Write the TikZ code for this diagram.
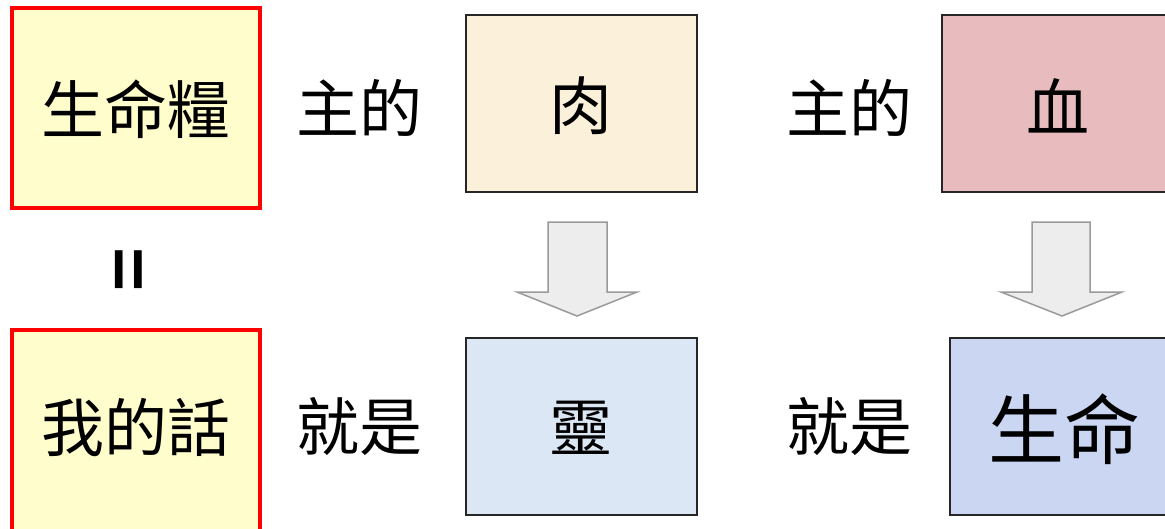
\documentclass[tikz,border=0pt]{standalone}
\usepackage{fontspec}
\newfontfamily\cjk{Noto Sans CJK TC}
\newfontfamily\cjkb{Noto Sans CJK TC Bold}
\definecolor{ybox}{HTML}{FFFDCC}
\definecolor{rouge}{HTML}{FF0000}
\definecolor{flesh}{HTML}{FBF0DA}
\definecolor{blood}{HTML}{E8BCBE}
\definecolor{spirit}{HTML}{DCE7F5}
\definecolor{life}{HTML}{CAD6F2}
\definecolor{arrfill}{HTML}{EDEDED}
\definecolor{arrline}{HTML}{9A9A9A}
\tikzset{
  redbox/.style={draw=rouge, line width=3.5pt, fill=ybox},
  pic box/.style={draw=black!85, line width=1.5pt},
  bigtxt/.style={font=\cjk\fontsize{63}{70}\selectfont, inner sep=0pt},
  downarrow/.style={draw=arrline, line width=1.5pt, fill=arrfill, line join=miter},
}
\begin{document}
\begin{tikzpicture}[x=1pt,y=-1pt]
\useasboundingbox (0,0) rectangle (1165,528);
\clip (0,0) rectangle (1165,528);
\fill[white] (0,0) rectangle (1165,528);
% left boxes
\draw[redbox] (12,8) rectangle (260,208);
\node[bigtxt] (food) at (136,109) {生命糧};
\draw[redbox] (12,330) rectangle (260,560);
\node[bigtxt] (word) at (136,428) {我的話};
\node[font=\cjkb\fontsize{74}{74}\selectfont, rotate=90, inner sep=0pt] (eq) at (136,270) {=};
% middle labels
\node[bigtxt] (zhu1) at (359,108) {主的};
\node[bigtxt] (jiu1) at (359,427) {就是};
\node[bigtxt] (zhu2) at (849,108) {主的};
\node[bigtxt] (jiu2) at (849,427) {就是};
% picture boxes
\draw[pic box, fill=flesh] (466,15) rectangle (697,192);
\node[bigtxt] (rou) at (581,106) {肉};
\draw[pic box, fill=spirit] (466,338) rectangle (697,515);
\node[bigtxt] (ling) at (581,428) {靈};
\draw[pic box, fill=blood] (942,15) rectangle (1180,192);
\node[bigtxt] (xue) at (1058,106) {血};
\draw[pic box, fill=life] (950,338) rectangle (1180,515);
\node[font=\cjk\fontsize{76}{80}\selectfont, inner sep=0pt] (life) at (1064,429) {生命};
% arrows
\draw[downarrow] (548,222) -- (607,222) -- (607,292) -- (637,292) -- (577,316) -- (517,292) -- (548,292) -- cycle;
\draw[downarrow] (1032,222) -- (1090,222) -- (1090,292) -- (1122,292) -- (1062,316) -- (1001,292) -- (1032,292) -- cycle;
\end{tikzpicture}
\end{document}
